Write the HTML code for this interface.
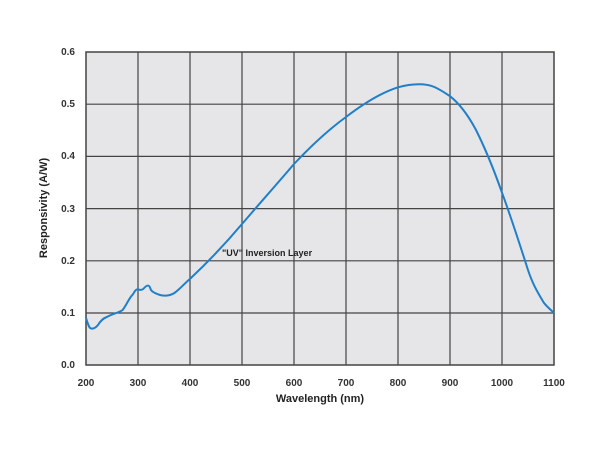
<!DOCTYPE html>
<html><head><style>body{margin:0;background:#fff}svg{display:block}</style></head><body>
<svg width="600" height="450" xmlns="http://www.w3.org/2000/svg" font-family="Liberation Sans, sans-serif">
<rect x="86" y="52" width="468" height="313" fill="#e6e6e8"/>
<g stroke="#444" stroke-width="1.2" fill="none">
<path d="M138 52V365M190 52V365M242 52V365M294 52V365M346 52V365M398 52V365M450 52V365M502 52V365"/>
<path d="M86 104.2H554M86 156.4H554M86 208.6H554M86 260.8H554M86 313H554"/>
<rect x="86" y="52" width="468" height="313" stroke-width="1.5"/>
</g>
<path d="M86 318 C88 324 89 328.5 91.2 328.5 C94 329 96 327.4 98 325 C101 320 104 318 106.8 317 C112 314 118 313 122.4 310.2 C126 306 129 298 132.8 294.5 C135 291 136 289 138 289.3 C140 290 142 290 143.2 289 C145 287 147 285 148.4 285.7 C150 286 150 288 151 290 C152 291.5 153 292 155 293 C159 295 162 296 166 295.6 C170 295.5 172 294.5 174.4 293 C180 289 184 284 190 278.9 C208 262 226 243 242 224 C260 203 277 184 294 164 C311 146 328 130 346 117 C363 104 380 93 398 87.3 C406 85 412 84.2 418.8 84.2 C426 84.2 430 85 434.4 87 C441 90 445 93 450 96.2 C460 104 468 115 476 130 C486 150 494 170 502 192.7 C511 217 520 245 528 270 C533 285 538 293 543.6 302.4 C547 307 551 310 554 313" fill="none" stroke="#1f7fc9" stroke-width="2"/>
<g font-size="10" fill="#333" font-weight="bold" text-anchor="end">
<text x="75" y="55">0.6</text><text x="75" y="107">0.5</text><text x="75" y="159">0.4</text><text x="75" y="212">0.3</text><text x="75" y="264">0.2</text><text x="75" y="316">0.1</text><text x="75" y="368">0.0</text>
</g>
<g font-size="10" fill="#333" font-weight="bold" text-anchor="middle">
<text x="86" y="386">200</text><text x="138" y="386">300</text><text x="190" y="386">400</text><text x="242" y="386">500</text><text x="294" y="386">600</text><text x="346" y="386">700</text><text x="398" y="386">800</text><text x="450" y="386">900</text><text x="502" y="386">1000</text><text x="554" y="386">1100</text>
</g>
<text x="320" y="402" font-size="11" font-weight="bold" fill="#222" text-anchor="middle">Wavelength (nm)</text>
<text transform="translate(47,208) rotate(-90)" font-size="11" font-weight="bold" fill="#222" text-anchor="middle">Responsivity (A/W)</text>
<text x="222" y="256" font-size="9" font-weight="bold" fill="#222">"UV" Inversion Layer</text>
</svg>
</body></html>
